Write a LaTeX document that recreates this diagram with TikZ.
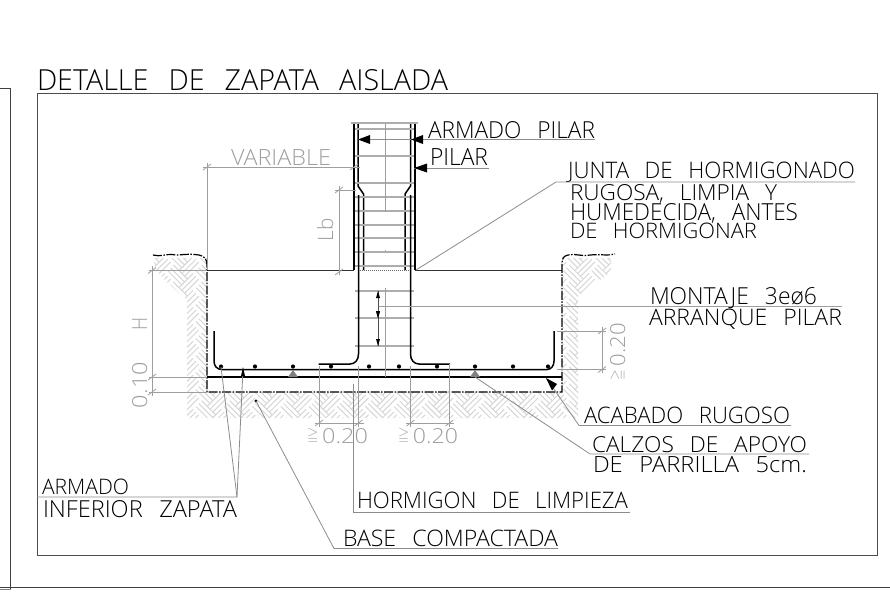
\documentclass[tikz,border=0pt]{standalone}
\usepackage{amssymb}
\usepackage{graphicx}
\usepackage{fontspec}
\newfontfamily\cadfont{Open Sans Light}
\definecolor{dimg}{gray}{0.62}
\definecolor{leadg}{gray}{0.55}
\definecolor{hatchg}{gray}{0.84}
\definecolor{stirg}{gray}{0.68}
\newcommand{\cad}[3]{\resizebox{#1pt}{#2pt}{\raisebox{0pt}[\height][0pt]{\fontsize{24}{24}\selectfont\cadfont #3}}}
\newcommand{\wsp}{\hspace{0.7em}}
\newcommand{\gq}{\smash{\raisebox{3.5pt}{\scalebox{0.62}[0.72]{$\geqq$}}}\hspace{4pt}}
\newcommand{\tk}[2]{\draw[dimline] (#1-4,#2+3) -- (#1+4,#2-3);}
\tikzset{
  x=1pt,y=-1pt,
  dimline/.style={draw=dimg,line width=0.8pt},
  leader/.style={draw=leadg,line width=0.8pt},
  frameline/.style={draw=black!75,line width=1pt},
  rebar/.style={draw=black,line width=1.5pt},
  stirrup/.style={draw=stirg,line width=1.6pt},
  soil/.style={draw=black,line width=1.2pt,dash pattern=on 9pt off 1.5pt on 1.5pt off 1.5pt},
  label/.style={anchor=south west,inner sep=0pt,outer sep=0pt,text=black},
  dimlabel/.style={anchor=south west,inner sep=0pt,outer sep=0pt,text=dimg},
  hatchline/.style={draw=hatchg,line width=1pt},
}
\begin{document}
\begin{tikzpicture}
\useasboundingbox (0,0) rectangle (890,606);
% sheet lines
\draw[frameline] (0,88.5) -- (10.5,88.5) -- (10.5,589);
\draw[frameline] (0,587.5) -- (890,587.5);
\draw[draw=black!50,line width=0.8pt] (0,589.5) -- (10.5,589.5);
% hatch
\begin{scope}
\clip (153,258) -- (207,258) -- (207,392) -- (562,392) -- (562,258) -- (611,258) -- (611,272) -- (578,296) -- (578,418) -- (187,418) -- (187,300) -- (165,280) -- (156,270) -- cycle;
\foreach \i in {-1,...,16}{
  \foreach \j in {-1,...,11}{
    \begin{scope}[shift={(145+28.28*\i,248+16.97*\j)},rotate=-45]
      \foreach \k in {0,4,8}{
        \draw[hatchline] (0,\k) -- (20,\k);
        \draw[hatchline] (20+\k,12) -- (20+\k,-8);
      }
    \end{scope}
  }
}
\end{scope}
% outer frame and title
\draw[draw=black!70,line width=0.9pt] (37,93) rectangle (877,555);
\node[label] (title) at (37,90) {\cad{411}{21}{DETALLE\wsp DE\wsp ZAPATA\wsp AISLADA}};
% footing
\draw[draw=black!80,line width=1.8pt] (207,270.5) -- (354,270.5);
\draw[draw=black!80,line width=1.8pt] (415,270.5) -- (562,270.5);
\draw[soil] (153,255) .. controls (160,257) and (166,254) .. (172,254.5) .. controls (180,256) and (186,253) .. (199,255) .. controls (205,256) and (207,260) .. (207,265) -- (207,392) -- (562,392) -- (562,263) .. controls (562,258) and (564,256) .. (568,255) .. controls (575,253) and (582,257) .. (590,255) .. controls (600,254) and (608,256) .. (615,254);
\draw[draw=black,line width=1.2pt] (207,377) -- (562,377);
% column
\draw[rebar] (354,123) -- (354,270);
\draw[rebar] (415,123) -- (415,270);
\draw[rebar] (358,123) -- (358,186) -- (363.5,194) -- (363.5,270);
\draw[rebar] (410.5,123) -- (410.5,186) -- (405,194) -- (405,270);
\foreach \y in {123,129,156,183,197,211,225,238,252,266,291,318,346}{
  \draw[stirrup] (355,\y) -- (414,\y);
}
\draw[stirrup] (351,123) -- (418,123);
\draw[draw=black!60,line width=1pt,dash pattern=on 1pt off 1pt] (358,270.5) -- (412,270.5);
% bars
\draw[rebar] (358.5,195) -- (358.5,354) .. controls (358.5,360) and (355,364) .. (350,364) -- (318.5,364);
\draw[rebar] (410.5,195) -- (410.5,354) .. controls (410.5,360) and (414,364) .. (419,364) -- (450,364);
\draw[rebar] (214,331) -- (214,361) .. controls (214,366) and (217,369.5) .. (222,369.5) -- (547,369.5) .. controls (551,369.5) and (554,366) .. (554,361) -- (554,331);
\foreach \x in {221,255,293,331,369,399,437,475,513,548}{
  \fill[black] (\x,366.5) circle (2.1);
}
\fill[black!50] (293,370) -- (298,377) -- (288,377) -- cycle;
\fill[black!50] (475,370) -- (480,377) -- (470,377) -- cycle;
% axis
\draw[dimline] (385,123) -- (385,212);
\draw[dimline] (385,288) -- (385,377);
\draw[dimline] (385,250) -- (385,251);
% dims: VARIABLE
\draw[dimline] (203,167) -- (360,167);
\draw[dimline] (207,163) -- (207,270);
\tk{207}{167}\tk{354}{167}
\node[dimlabel] (tvar) at (231,165) {\cad{100}{16}{VARIABLE}};
% Lb
\draw[dimline] (339,186) -- (339,275);
\draw[dimline] (335,190) -- (356,190);
\tk{339}{190}\tk{339}{272}
\node[dimlabel,rotate=90,anchor=south west] (tlb) at (333,241) {\cad{23}{16}{Lb}};
% H and 0.10
\draw[dimline] (152,266) -- (152,396);
\draw[dimline] (149,270.5) -- (207,270.5);
\draw[dimline] (149,377) -- (207,377);
\draw[dimline] (149,392) -- (207,392);
\tk{152}{270.5}\tk{152}{377}\tk{152}{392}
\node[dimlabel,rotate=90,anchor=south west] (th) at (147,330) {\cad{13}{15}{H}};
\node[dimlabel,rotate=90,anchor=south west] (t010) at (147,408) {\cad{46}{15}{0.10}};
% bottom dims
\draw[dimline] (319,366) -- (319,427);
\draw[dimline] (358.5,366) -- (358.5,427);
\draw[dimline] (410.5,366) -- (410.5,427);
\draw[dimline] (449.5,364) -- (449.5,427);
\draw[dimline] (315,423) -- (364,423);
\draw[dimline] (406,423) -- (454,423);
\tk{319}{423}\tk{358.5}{423}\tk{410.5}{423}\tk{449.5}{423}
\node[dimlabel] (td1) at (307,443) {\cad{61}{15}{\gq 0.20}};
\node[dimlabel] (td2) at (398,443) {\cad{60}{15}{\gq 0.20}};
% right dim
\draw[dimline] (557,331) -- (606,331);
\draw[dimline] (557,369.5) -- (606,369.5);
\draw[dimline] (602,327) -- (602,373);
\tk{602}{331}\tk{602}{369.5}
\node[dimlabel,rotate=90,anchor=south west] (td3) at (625,380.5) {\cad{57.5}{15}{\gq 0.20}};
% stirrup spacing arrows
\draw[draw=black!70,line width=0.7pt] (378,291) -- (378,346);
\draw[dimline] (379,306.5) -- (842,306.5);
\foreach \y/\d in {291/1,318/-1,346/-1}{
  \fill[black] (378,\y) -- (376,\y+\d*7) -- (380,\y+\d*7) -- cycle;
}
\fill[black] (378,318) -- (376,311) -- (380,311) -- cycle;
% labels
\node[label] (tap) at (428,138) {\cad{167}{17}{ARMADO\wsp PILAR}};
\draw[leader] (358,139) -- (595,139);
\fill[black] (358,139.5) -- (370,135) -- (370,144) -- cycle;
\fill[black] (411,139.5) -- (423,135) -- (423,144) -- cycle;
\node[label] (tp) at (430,165) {\cad{58}{17}{PILAR}};
\draw[leader] (414,168) -- (489,168);
\fill[black] (414,168) -- (427,163.5) -- (427,172.5) -- cycle;
\node[label] (tj1) at (568,178.5) {\cad{287}{16.5}{JUNTA\wsp DE\wsp HORMIGONADO}};
\draw[leader] (416,270) -- (556,182) -- (855,182);
\node[label] (tj2) at (570,200) {\cad{207}{16}{RUGOSA,\wsp LIMPIA\wsp Y}};
\node[label] (tj3) at (570,220) {\cad{228}{17}{HUMEDECIDA,\wsp ANTES}};
\node[label] (tj4) at (570,238) {\cad{187}{15.5}{DE\wsp HORMIGONAR}};
\node[label] (tm1) at (650,304) {\cad{167}{17}{MONTAJE\wsp 3e\o 6}};
\node[label] (tm2) at (649,325.5) {\cad{193}{16.5}{ARRANQUE\wsp PILAR}};
\node[label] (tac) at (584,423) {\cad{206}{16.5}{ACABADO\wsp RUGOSO}};
\draw[leader] (547,379) -- (579,425.5) -- (791,425.5);
\fill[black] (546,378) -- (557,384) -- (552,390.5) -- cycle;
\node[label] (tc1) at (592,452.5) {\cad{215}{16}{CALZOS\wsp DE\wsp APOYO}};
\draw[leader] (475,377) -- (590,454) -- (809,454);
\node[label] (tc2) at (593,472) {\cad{214}{16}{DE\wsp PARRILLA\wsp 5cm.}};
\node[label] (th2) at (357,508.5) {\cad{271}{16.5}{HORMIGON\wsp DE\wsp LIMPIEZA}};
\draw[leader] (353,384) -- (353,512) -- (630,512);
\node[label] (tb) at (343,546.5) {\cad{215}{16.5}{BASE\wsp COMPACTADA}};
\fill[black] (256,401) circle (1.6);
\draw[leader] (256,401) -- (334,548.5) -- (558,548.5);
\node[label] (ta1) at (42,494) {\cad{87}{15.5}{ARMADO}};
\node[label] (ta2) at (43,517) {\cad{194}{17}{INFERIOR\wsp ZAPATA}};
\draw[leader] (37,497) -- (237,497) -- (221,367);
\draw[leader] (237,497) -- (243,369);
\fill[black] (243,367) -- (245,376) -- (241,376) -- cycle;
\end{tikzpicture}
\end{document}
